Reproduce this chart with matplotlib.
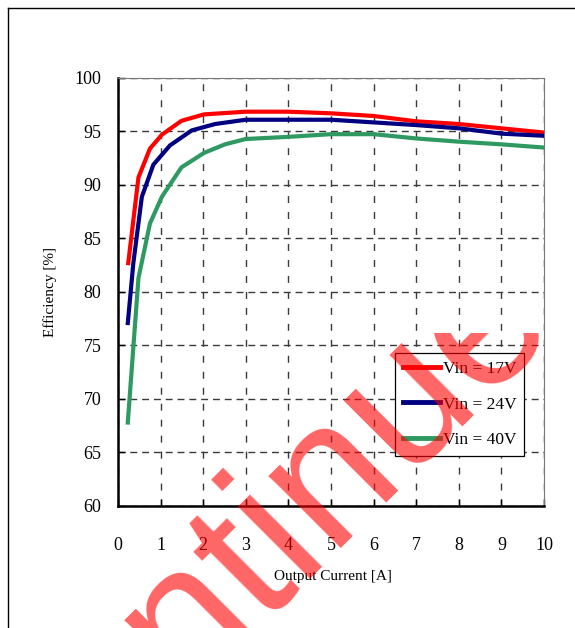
import matplotlib
matplotlib.use("Agg")
import matplotlib.pyplot as plt
from matplotlib.lines import Line2D
from matplotlib.transforms import Bbox

# ---- data ----
x_17 = [0.24, 0.48, 0.75, 1.03, 1.49, 2.02, 3.0, 4.0, 5.0, 6.0, 7.0, 8.0, 9.0, 10.0]
y_17 = [82.7, 90.7, 93.4, 94.7, 96.0, 96.6, 96.85, 96.85, 96.7, 96.45, 95.95, 95.7, 95.3, 94.9]

x_24 = [0.23, 0.36, 0.56, 0.83, 1.22, 1.73, 2.28, 2.82, 3.0, 5.0, 6.0, 7.0, 8.0, 9.0, 10.0]
y_24 = [77.1, 82.7, 88.9, 91.9, 93.7, 95.1, 95.7, 96.0, 96.1, 96.1, 95.85, 95.6, 95.3, 94.8, 94.6]

x_40 = [0.23, 0.48, 0.75, 1.03, 1.49, 2.02, 2.51, 3.0, 4.0, 5.0, 6.0, 7.0, 8.0, 9.0, 10.0]
y_40 = [67.8, 81.3, 86.4, 88.9, 91.65, 93.0, 93.8, 94.3, 94.5, 94.75, 94.75, 94.35, 94.05, 93.8, 93.5]

labels = ["Vin = 17V", "Vin = 24V", "Vin = 40V"]
x_ticks = list(range(0, 11))
y_ticks = [60, 65, 70, 75, 80, 85, 90, 95, 100]
watermark = "Continue"

serif = ["Liberation Serif", "DejaVu Serif"]

W, H = 575, 628
fig = plt.figure(figsize=(W / 100, H / 100), dpi=100)
fig.patch.set_facecolor("white")

ax = fig.add_axes([118 / W, (H - 506) / H, 426 / W, 428 / H])

ax.plot(x_17, y_17, color="#ff0000", lw=3.0, label=labels[0], zorder=3)
ax.plot(x_24, y_24, color="#000080", lw=3.0, label=labels[1], zorder=3)
ax.plot(x_40, y_40, color="#2e9960", lw=3.0, label=labels[2], zorder=3)

ax.set_xlim(0, 10)
ax.set_ylim(60, 100)
ax.set_xticks(x_ticks)
ax.set_yticks(y_ticks)
ax.set_xticklabels([str(v) for v in x_ticks], fontfamily=serif, fontsize=13)
ax.set_yticklabels([str(v) for v in y_ticks], fontfamily=serif, fontsize=13)
ax.tick_params(axis="both", direction="in", length=5, width=1, color="black")
ax.tick_params(axis="x", pad=22)
ax.tick_params(axis="y", pad=12)

ax.grid(axis="y", linestyle=(0, (5, 3.5)), color="#3a3a3a", lw=1.0)
ax.grid(axis="x", linestyle=(0, (5, 6.5)), color="#3a3a3a", lw=1.0)
ax.set_axisbelow(True)

for s in ["left", "bottom"]:
    ax.spines[s].set_linewidth(1.8)
    ax.spines[s].set_color("black")
for s in ["top", "right"]:
    ax.spines[s].set_linewidth(0.8)
    ax.spines[s].set_color("#777777")

ax.set_xlabel("Output Current [A]", fontfamily=serif, fontsize=11)
ax.set_ylabel("Efficiency [%]", fontfamily=serif, fontsize=11)
ax.xaxis.set_label_coords(0.505, -0.150)
ax.yaxis.set_label_coords(-0.143, 0.50)

leg = ax.legend(loc="upper left", bbox_to_anchor=(0.650, 0.3575),
                prop={"family": serif, "size": 12.5},
                handlelength=2.15, handletextpad=0.15, labelspacing=1.12,
                borderpad=0.45, borderaxespad=0.0, fancybox=False,
                framealpha=1.0, edgecolor="black")
leg.get_frame().set_linewidth(0.9)
for h in leg.get_lines():
    h.set_linewidth(3.5)

# outer frame (left and top edges)
fig.add_artist(Line2D([7.5 / W, 7.5 / W], [0, (H - 8) / H], color="black", lw=1.0))
fig.add_artist(Line2D([7.5 / W, 1.0], [(H - 8) / H, (H - 8) / H], color="black", lw=1.0))

# watermark
wm = fig.text(11.3 / W, -240.7 / H, watermark, rotation=45, rotation_mode="anchor",
              ha="left", va="baseline", fontsize=139,
              fontfamily=["Liberation Sans", "DejaVu Sans"],
              color="#ff0000", alpha=0.6, zorder=10)
wm.set_clip_box(Bbox([[0, 0], [W, H - 333]]))
wm.set_clip_on(True)

fig.savefig("out.png", dpi=100)
